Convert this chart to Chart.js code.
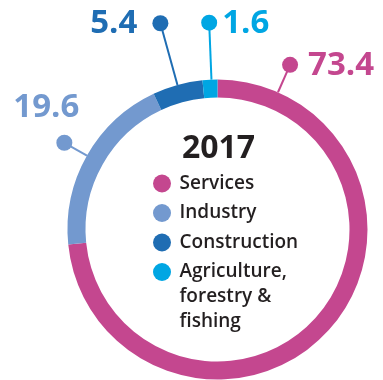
<!DOCTYPE html>
<html lang="en">
<head>
    <meta charset="UTF-8">
    <title>2017 sectors</title>
    <script src="https://cdn.jsdelivr.net/npm/chart.js"></script>
    <style>
        html, body { margin: 0; padding: 0; background: #fff; }
        #sectorChart { display: block; }
    </style>
</head>
<body>
    <canvas id="sectorChart" width="383" height="380"></canvas>
    <script>
    // data
    const categories = ['Services', 'Industry', 'Construction', ['Agriculture,', 'forestry &', 'fishing']];
    const shares = [73.4, 19.6, 5.4, 1.6];
    const yearLabel = '2017';
    const colours = ['#c4478f', '#7399cf', '#1f6db3', '#00a6e3'];

    const FONT = '"Open Sans", "DejaVu Sans", sans-serif';
    const TEXT = '#231f20';

    // where each leader line leaves its slice, how far out the dot sits, and where the number goes
    const callouts = [
        { frac: 0.09, r: 180, dx: 18, dy: 1, align: 'left' },
        { frac: 0.5, r: 176, dx: 15, dy: -35, align: 'right' },
        { frac: 0.5, r: 214, dx: -23, dy: 0, align: 'right' },
        { frac: 0.6, r: 207, dx: 13, dy: 1, align: 'left' }
    ];

    const calloutPlugin = {
        id: 'callouts',
        afterDatasetsDraw: (chart) => {
            const ctx = chart.ctx;
            const meta = chart.getDatasetMeta(0);
            meta.data.forEach((arc, i) => {
                const c = callouts[i];
                const a = arc.startAngle + c.frac * (arc.endAngle - arc.startAngle);
                const x0 = arc.x + Math.cos(a) * arc.outerRadius;
                const y0 = arc.y + Math.sin(a) * arc.outerRadius;
                const x1 = arc.x + Math.cos(a) * c.r;
                const y1 = arc.y + Math.sin(a) * c.r;
                ctx.save();
                ctx.strokeStyle = colours[i];
                ctx.fillStyle = colours[i];
                ctx.lineWidth = 2;
                ctx.beginPath();
                ctx.moveTo(x0, y0);
                ctx.lineTo(x1, y1);
                ctx.stroke();
                ctx.beginPath();
                ctx.arc(x1, y1, 8, 0, Math.PI * 2);
                ctx.fill();
                ctx.font = 'bold 33px ' + FONT;
                ctx.textAlign = c.align;
                ctx.textBaseline = 'middle';
                ctx.fillText(shares[i].toFixed(1), x1 + c.dx, y1 + c.dy);
                ctx.restore();
            });
        }
    };

    const centreLegendPlugin = {
        id: 'centreLegend',
        afterDraw: (chart) => {
            const ctx = chart.ctx;
            const arc = chart.getDatasetMeta(0).data[0];
            const cx = arc.x;
            const cy = arc.y;
            ctx.save();
            ctx.fillStyle = TEXT;
            ctx.textAlign = 'center';
            ctx.textBaseline = 'middle';
            ctx.font = 'bold 32px ' + FONT;
            ctx.fillText(yearLabel, cx + 1, cy - 81);

            let y = cy - 46;
            chart.data.labels.forEach((lab, i) => {
                const lines = Array.isArray(lab) ? lab : [lab];
                ctx.fillStyle = colours[i];
                ctx.beginPath();
                ctx.arc(cx - 55.5, y, 9, 0, Math.PI * 2);
                ctx.fill();
                ctx.fillStyle = TEXT;
                ctx.textAlign = 'left';
                ctx.font = '600 19px ' + FONT;
                lines.forEach((ln, j) => {
                    ctx.fillText(ln, cx - 38, y + j * 25);
                });
                y += 29.5 + (lines.length - 1) * 25;
            });
            ctx.restore();
        }
    };

    const chart = new Chart(document.getElementById('sectorChart'), {
        type: 'doughnut',
        data: {
            labels: categories,
            datasets: [{
                data: shares,
                backgroundColor: colours,
                borderWidth: 0
            }]
        },
        options: {
            responsive: false,
            animation: false,
            cutout: '88%',
            layout: {
                padding: { left: 67.5, right: 15.5, top: 79.5, bottom: 0.5 }
            },
            plugins: {
                legend: { display: false },
                tooltip: { enabled: false }
            }
        },
        plugins: [calloutPlugin, centreLegendPlugin]
    });
    </script>
</body>
</html>
